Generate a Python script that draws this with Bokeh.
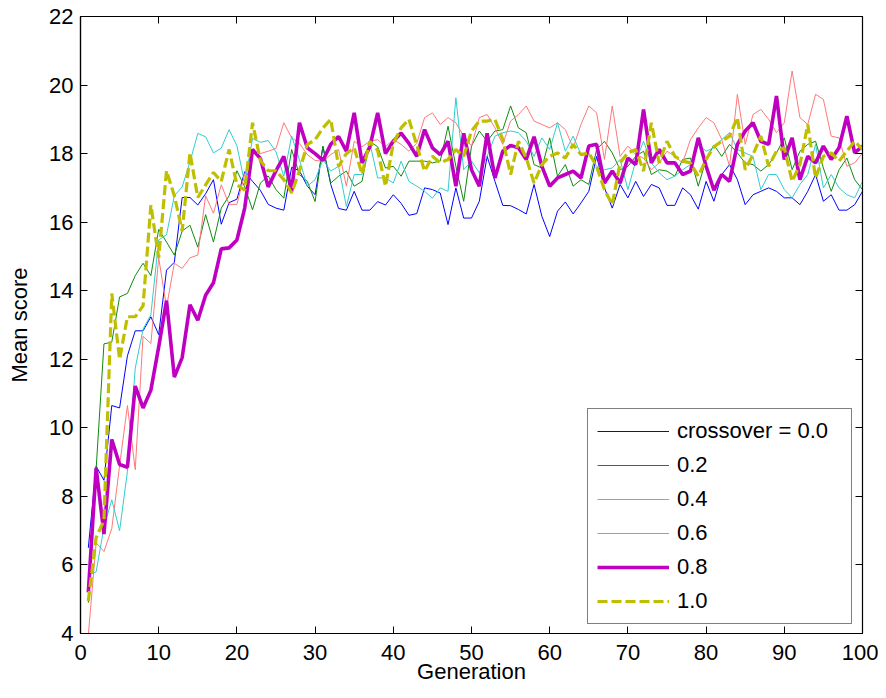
from bokeh.plotting import figure
from bokeh.models import Range1d, FixedTicker, LinearAxis, Legend, LegendItem
from bokeh.embed import file_html
from bokeh.resources import INLINE

generations = list(range(1, 101))
x_ticks = [0, 10, 20, 30, 40, 50, 60, 70, 80, 90, 100]
y_ticks = [4, 6, 8, 10, 12, 14, 16, 18, 20, 22]

labels = ["crossover = 0.0", "0.2", "0.4", "0.6", "0.8", "1.0"]

cx00 = [
    6.5, 8.88, 8.47, 10.65, 10.58, 12.1, 12.83, 12.83, 13.24, 12.72,
    14.6, 14.83, 16.72, 16.72, 16.5, 16.83, 17.24, 15.94, 16.57, 16.67,
    17.47, 17.19, 16.93, 16.52, 16.41, 16.35, 17.6, 17.5, 17.05, 16.8,
    18.2, 17.1, 16.4, 16.35, 16.9, 16.35, 16.35, 16.6, 16.5, 16.8,
    16.55, 16.2, 16.25, 17.0, 16.95, 16.85, 15.93, 17.0, 16.12, 16.12,
    16.61, 17.92, 17.19, 16.49, 16.48, 16.37, 16.24, 17.1, 16.17, 15.58,
    16.32, 16.59, 16.24, 16.56, 16.9, 17.92, 17.0, 16.41, 17.1, 16.71,
    17.19, 16.75, 17.1, 17.0, 16.49, 16.49, 17.0, 16.8, 16.38, 17.19,
    16.61, 17.39, 17.68, 17.24, 16.51, 16.8, 16.9, 17.0, 16.9, 16.71,
    16.71, 16.51, 16.9, 17.39, 16.61, 16.8, 16.35, 16.35, 16.51, 16.9]

cx02 = [
    4.9, 8.8, 12.45, 12.5, 13.82, 13.92, 14.44, 14.8, 14.44, 15.79,
    15.42, 15.04, 15.74, 15.91, 15.27, 16.22, 15.42, 16.41, 16.77, 17.5,
    17.03, 16.36, 17.14, 17.35, 16.95, 16.7, 18.12, 17.39, 17.19, 16.6,
    18.22, 17.14, 17.34, 17.49, 17.05, 17.19, 18.36, 18.2, 17.58, 17.63,
    17.34, 17.78, 17.78, 17.78, 17.73, 17.78, 18.8, 17.63, 16.61, 18.22,
    18.66, 18.36, 18.66, 18.7, 19.39, 18.75, 18.61, 17.68, 17.58, 18.46,
    17.34, 17.68, 17.05, 17.24, 17.1, 18.12, 18.36, 18.02, 17.53, 17.63,
    17.92, 18.07, 17.39, 17.53, 17.49, 17.34, 17.83, 17.87, 17.05, 17.83,
    18.25, 17.92, 18.27, 18.02, 17.73, 17.68, 17.49, 17.68, 18.02, 18.46,
    17.53, 18.07, 18.27, 18.36, 17.58, 16.9, 17.53, 17.87, 17.24, 16.95]

cx04 = [
    3.95, 6.65, 6.39, 7.06, 8.9, 10.65, 8.78, 12.67, 12.46, 14.96,
    13.52, 14.8, 14.65, 14.96, 15.04, 16.77, 16.26, 17.09, 16.52, 16.52,
    17.4, 18.05, 18.0, 18.07, 18.15, 18.9, 18.46, 18.3, 17.97, 17.8,
    17.78, 17.97, 18.12, 17.05, 18.36, 18.2, 18.36, 18.41, 18.2, 18.41,
    18.27, 18.07, 18.3, 19.05, 19.19, 18.85, 19.05, 18.9, 18.51, 18.22,
    19.05, 19.14, 18.75, 18.27, 18.95, 19.14, 19.39, 18.95, 18.85, 18.75,
    18.9, 18.7, 18.17, 18.85, 19.39, 19.19, 17.83, 19.39, 17.92, 18.22,
    17.97, 17.87, 17.53, 17.73, 18.07, 17.92, 17.73, 18.41, 18.75, 19.05,
    18.9, 18.41, 17.63, 19.73, 18.27, 19.14, 19.29, 19.0, 18.61, 18.9,
    20.41, 19.05, 18.85, 19.73, 19.58, 18.51, 18.46, 17.63, 17.73, 18.02]

cx06 = [
    5.7, 5.8, 7.1, 7.9, 7.0, 8.73, 11.74, 12.88, 13.3, 15.48,
    15.63, 16.77, 17.03, 17.76, 18.59, 18.49, 18.02, 18.16, 18.7, 18.23,
    17.14, 18.44, 18.33, 18.38, 18.05, 17.34, 18.51, 17.82, 17.05, 17.24,
    17.82, 17.49, 17.63, 16.46, 17.39, 17.39, 18.31, 17.29, 17.29, 17.14,
    17.78, 17.19, 17.05, 16.9, 16.7, 17.0, 16.9, 19.63, 17.53, 17.78,
    17.44, 17.92, 18.51, 18.61, 18.66, 18.61, 18.36, 17.92, 18.46, 18.12,
    18.9, 18.07, 18.51, 17.97, 18.02, 17.63, 17.53, 17.58, 17.83, 16.95,
    17.78, 18.36, 17.73, 17.44, 17.24, 17.34, 17.53, 17.68, 18.27, 18.07,
    18.17, 18.41, 18.61, 18.12, 18.02, 17.92, 16.95, 17.39, 17.39, 16.95,
    16.71, 17.1, 17.39, 18.27, 17.0, 17.39, 17.0, 16.8, 16.71, 17.19]

cx08 = [
    5.2, 8.83, 6.9, 9.66, 8.93, 8.85, 11.22, 10.58, 11.1, 12.36,
    13.71, 11.48, 12.05, 13.59, 13.14, 13.87, 14.23, 15.22, 15.25, 15.48,
    16.41, 18.12, 17.86, 17.03, 17.5, 17.92, 16.9, 18.9, 18.17, 18.0,
    17.8, 18.27, 18.5, 18.07, 19.19, 17.73, 18.2, 19.19, 18.0, 18.36,
    18.6, 18.3, 17.92, 18.7, 18.17, 17.97, 18.36, 17.05, 18.59, 17.53,
    17.05, 18.59, 17.29, 18.07, 18.24, 18.17, 17.83, 18.49, 17.63, 17.05,
    17.29, 17.39, 17.49, 17.29, 18.22, 18.27, 17.14, 17.49, 17.14, 17.87,
    17.68, 19.29, 17.73, 18.12, 17.73, 17.73, 17.39, 17.49, 18.46, 17.63,
    16.93, 17.39, 17.19, 18.27, 18.66, 18.9, 18.36, 18.27, 19.68, 17.83,
    18.46, 17.24, 17.92, 17.73, 18.22, 17.83, 18.17, 19.09, 18.02, 18.22]

cx10 = [
    4.95, 6.8, 7.3, 13.92, 12.0, 13.24, 13.24, 13.56, 16.5, 14.96,
    17.5, 16.77, 15.74, 18.02, 16.72, 17.09, 17.45, 17.19, 18.12, 17.09,
    16.93, 18.9, 17.8, 17.5, 17.5, 17.24, 16.85, 17.5, 18.27, 18.4,
    18.75, 19.0, 17.63, 18.0, 18.17, 17.4, 18.36, 18.1, 17.05, 18.3,
    18.75, 19.0, 18.25, 17.49, 17.92, 17.73, 17.83, 18.12, 17.92, 18.66,
    18.95, 18.95, 19.0, 18.41, 17.39, 18.36, 17.87, 17.14, 17.68, 17.92,
    18.02, 17.87, 18.27, 17.97, 18.02, 17.63, 16.95, 16.51, 17.73, 18.02,
    18.12, 17.49, 18.9, 17.73, 18.36, 17.92, 17.78, 17.73, 17.34, 17.83,
    18.2, 18.36, 18.51, 19.05, 17.53, 17.97, 18.51, 17.63, 18.07, 18.17,
    17.19, 17.68, 18.85, 17.29, 17.92, 18.02, 17.78, 18.07, 18.36, 18.12]

series = [cx00, cx02, cx04, cx06, cx08, cx10]
styles = [
    dict(line_color="#0000ff", line_width=1),
    dict(line_color="#108a10", line_width=1),
    dict(line_color="#ff7878", line_width=1),
    dict(line_color="#33cccc", line_width=1),
    dict(line_color="#c000c0", line_width=3.6),
    dict(line_color="#bfbf00", line_width=3.2, line_dash="10 4"),
]

FONT = "Liberation Sans"
FS = "22px"

p = figure(width=878, height=690, x_range=Range1d(0, 100), y_range=Range1d(4, 22),
           output_backend="svg", toolbar_location=None,
           min_border_left=80, min_border_right=16, min_border_top=16, min_border_bottom=57)
p.xgrid.visible = False
p.ygrid.visible = False
p.outline_line_color = "black"
p.outline_line_width = 1.2
p.background_fill_color = "white"
p.border_fill_color = "white"

for ax, ticks in ((p.xaxis[0], x_ticks), (p.yaxis[0], y_ticks)):
    ax.ticker = FixedTicker(ticks=ticks)
    ax.major_tick_in = 7
    ax.major_tick_out = 0
    ax.minor_tick_in = 0
    ax.minor_tick_out = 0
    ax.major_tick_line_color = "black"
    ax.axis_line_color = "black"
    ax.axis_line_width = 1.2
    ax.major_label_text_font = FONT
    ax.major_label_text_font_size = FS
    ax.major_label_text_color = "black"
    ax.axis_label_text_font = FONT
    ax.axis_label_text_font_size = FS
    ax.axis_label_text_font_style = "normal"
    ax.axis_label_text_color = "black"

p.xaxis[0].axis_label = "Generation"
p.xaxis[0].major_label_standoff = 11
p.xaxis[0].axis_label_standoff = -4
p.yaxis[0].axis_label = "Mean score"
p.yaxis[0].major_label_standoff = 7
p.yaxis[0].axis_label_standoff = 14

top = LinearAxis(ticker=FixedTicker(ticks=x_ticks), major_tick_in=7, major_tick_out=0,
                 minor_tick_in=0, minor_tick_out=0, major_label_text_font_size="1px",
                 major_label_text_color=None, major_label_standoff=0, axis_line_color="black")
right = LinearAxis(ticker=FixedTicker(ticks=y_ticks), major_tick_in=7, major_tick_out=0,
                   minor_tick_in=0, minor_tick_out=0, major_label_text_font_size="1px",
                   major_label_text_color=None, major_label_standoff=0, axis_line_color="black")
p.add_layout(top, "above")
p.add_layout(right, "right")

items = []
for vals, st, lab in zip(series, styles, labels):
    r = p.line(generations, vals, **st)
    items.append(LegendItem(label=lab, renderers=[r]))

legend = Legend(items=items, location=(507, 9), label_text_font=FONT, label_text_font_size=FS,
                label_text_color="black", glyph_width=72, glyph_height=20, label_height=20,
                label_width=165, label_standoff=8, spacing=8, padding=9, margin=0,
                border_line_color="black", border_line_width=1,
                background_fill_color="white", background_fill_alpha=1.0)
p.add_layout(legend)

open("out.html", "w").write(file_html(p, INLINE))
